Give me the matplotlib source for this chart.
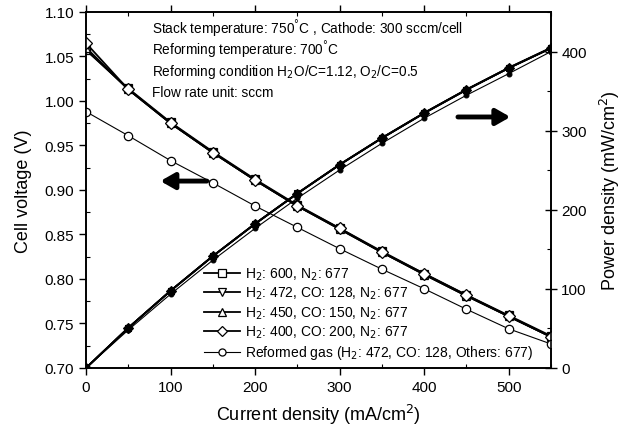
#!/usr/bin/env python3
"""Cell voltage / power density vs current density for several fuel compositions."""
import matplotlib
matplotlib.use("Agg")
import matplotlib.pyplot as plt
from matplotlib.ticker import MultipleLocator

plt.rcParams["font.family"] = ["Liberation Sans", "DejaVu Sans"]

# ---------------- data ----------------
current = [0, 50, 100, 150, 200, 250, 300, 350, 400, 450, 500, 550]

labels = [
    "H$_2$: 600, N$_2$: 677",
    "H$_2$: 472, CO: 128, N$_2$: 677",
    "H$_2$: 450, CO: 150, N$_2$: 677",
    "H$_2$: 400, CO: 200, N$_2$: 677",
    "Reformed gas (H$_2$: 472, CO: 128, Others: 677)",
]
markers = ["s", "v", "^", "D", "o"]

v_h2 = [1.057, 1.014, 0.976, 0.943, 0.912, 0.883, 0.857, 0.831, 0.806, 0.782, 0.759, 0.736]
v_h2_co128 = [1.058, 1.013, 0.975, 0.942, 0.911, 0.882, 0.856, 0.830, 0.805, 0.781, 0.758, 0.735]
v_h2_co150 = [1.060, 1.013, 0.975, 0.942, 0.911, 0.882, 0.856, 0.830, 0.805, 0.781, 0.758, 0.735]
v_h2_co200 = [1.065, 1.013, 0.975, 0.942, 0.911, 0.882, 0.857, 0.830, 0.806, 0.782, 0.758, 0.735]
v_reformed = [0.988, 0.961, 0.933, 0.908, 0.882, 0.858, 0.834, 0.811, 0.789, 0.766, 0.744, 0.727]

p_h2 = [0, 50.7, 97.6, 141.5, 182.4, 220.8, 257.1, 290.9, 322.4, 351.9, 379.5, 404.8]
p_h2_co128 = [0, 50.6, 97.5, 141.3, 182.2, 220.5, 256.8, 290.5, 322.0, 351.5, 379.0, 404.2]
p_h2_co150 = [0, 50.6, 97.5, 141.3, 182.2, 220.5, 256.8, 290.5, 322.0, 351.5, 379.0, 404.2]
p_h2_co200 = [0, 50.6, 97.5, 141.3, 182.2, 220.5, 257.1, 290.5, 322.4, 351.9, 379.0, 404.2]
p_reformed = [0, 48.0, 93.3, 136.2, 176.4, 214.5, 250.2, 283.9, 315.6, 344.7, 372.0, 399.9]

voltages = [v_h2, v_h2_co128, v_h2_co150, v_h2_co200, v_reformed]
powers = [p_h2, p_h2_co128, p_h2_co150, p_h2_co200, p_reformed]

# ---------------- plot ----------------
fig = plt.figure(figsize=(6.30, 4.39), dpi=100)
ax = fig.add_axes([0.1365, 0.1595, 0.738, 0.811])
ax2 = ax.twinx()

handles = []
for i, (v, p, lab, m) in enumerate(zip(voltages, powers, labels, markers)):
    reformed = i == 4
    lw = 0.8 if reformed else 1.3
    ms = 6 if m != "D" else 6.5
    h, = ax.plot(current, v, color="black", lw=lw, marker=m, ms=ms,
                 mfc="white", mec="black", mew=0.9, label=lab, zorder=3)
    handles.append(h)
    ax2.plot(current, p, color="black", lw=lw, marker=m, ms=5 if not reformed else 3.5,
             mfc="black", mec="black", mew=0.8, zorder=3)

ax.set_xlim(0, 550)
ax.set_ylim(0.70, 1.10)
ax2.set_ylim(0, 450)

ax.xaxis.set_major_locator(MultipleLocator(100))
ax.xaxis.set_minor_locator(MultipleLocator(50))
ax.yaxis.set_major_locator(MultipleLocator(0.05))
ax.yaxis.set_minor_locator(MultipleLocator(0.025))
ax2.yaxis.set_major_locator(MultipleLocator(100))
ax2.yaxis.set_minor_locator(MultipleLocator(50))
ax.yaxis.set_major_formatter(plt.FormatStrFormatter("%.2f"))

ax.tick_params(axis="x", which="major", direction="out", length=5, width=1, labelsize=11, top=True)
ax.tick_params(axis="x", which="minor", direction="in", length=3, width=0.8, top=True)
ax.tick_params(axis="y", which="major", direction="out", length=5, width=1, labelsize=11)
ax.tick_params(axis="y", which="minor", direction="in", length=3, width=0.8)
ax2.tick_params(axis="y", which="major", direction="inout", length=8, width=1, labelsize=11)
ax2.tick_params(axis="y", which="minor", direction="in", length=3, width=0.8)

for a in (ax, ax2):
    for s in a.spines.values():
        s.set_linewidth(1.2)

ax.set_xlabel("Current density (mA/cm$^2$)", fontsize=13, labelpad=6)
ax.set_ylabel("Cell voltage (V)", fontsize=13, labelpad=9)
ax2.set_ylabel("Power density (mW/cm$^2$)", fontsize=13, labelpad=8)

notes = [
    "Stack temperature: 750$^{\\degree}$C , Cathode: 300 sccm/cell",
    "Reforming temperature: 700$^{\\degree}$C",
    "Reforming condition H$_2$O/C=1.12, O$_2$/C=0.5",
    "Flow rate unit: sccm",
]
for k, t in enumerate(notes):
    ax.text(0.142, 0.955 - k * 0.06, t, transform=ax.transAxes, fontsize=9.8,
            va="center", ha="left")

# direction arrows
arrow_kw = dict(arrowstyle="-|>,head_length=0.7,head_width=0.4", lw=3.5,
                color="black", mutation_scale=12, shrinkA=0, shrinkB=0)
ax.annotate("", xy=(88, 0.910), xytext=(143, 0.910), arrowprops=arrow_kw)
ax.annotate("", xy=(502, 0.982), xytext=(440, 0.982), arrowprops=arrow_kw)

leg = ax.legend(handles=handles, loc="lower left", bbox_to_anchor=(0.235, -0.005),
                frameon=False, fontsize=10, handlelength=2.6, handletextpad=0.4,
                labelspacing=0.22, borderaxespad=0.2, markerscale=0.85)

fig.savefig("out.png", dpi=100)
